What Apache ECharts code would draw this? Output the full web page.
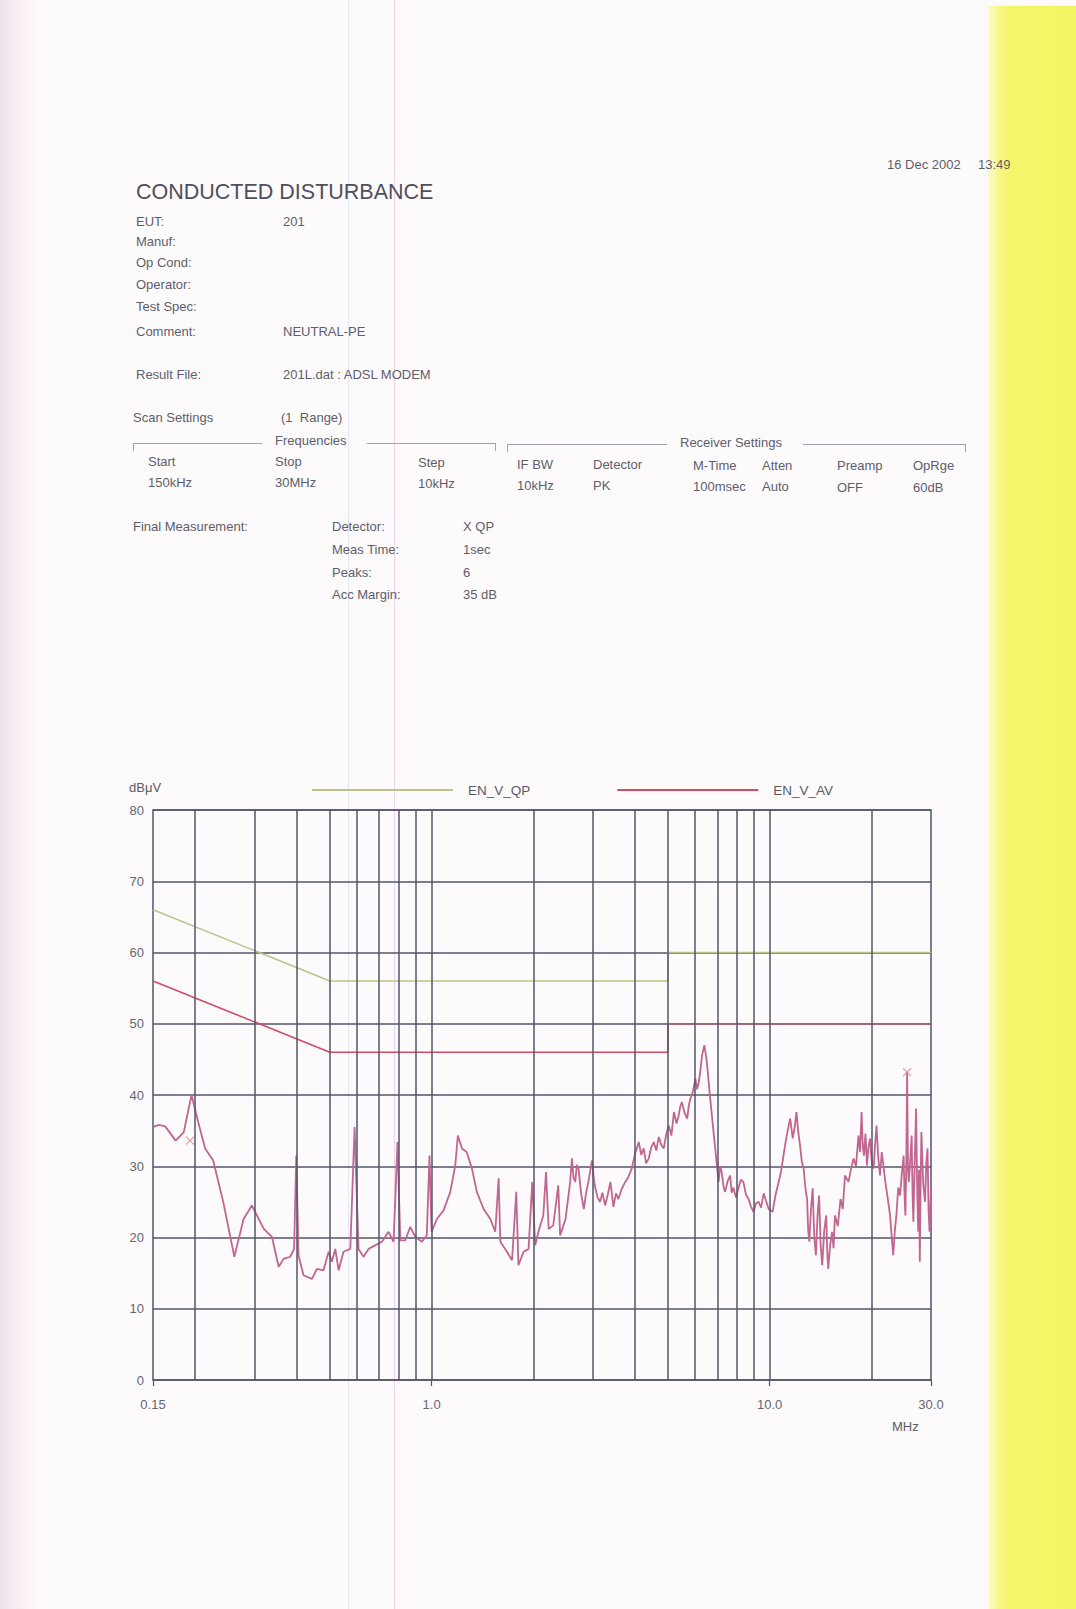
<!DOCTYPE html>
<html>
<head>
<meta charset="utf-8">
<title>Conducted Disturbance</title>
<script src="https://cdn.jsdelivr.net/npm/echarts/dist/echarts.min.js"></script>
<style>
  html, body { margin: 0; padding: 0; }
  body { width: 1076px; height: 1609px; overflow: hidden; position: relative;
         background: #fdfafc; font-family: 'Liberation Sans', Arial, sans-serif; }
  .edge-left { position: absolute; left: 0; top: 0; width: 40px; height: 1609px;
               background: linear-gradient(to right, #f1e1ea 0%, #f7eef3 45%, rgba(253,250,252,0) 100%); }
  .edge-right { position: absolute; left: 988px; top: 6px; width: 88px; height: 1603px;
                background: linear-gradient(to right, #fbfbd2 0px, #f8f78a 10px, #f6f56a 22px, #f5f462 100%); }
  .streak { position: absolute; top: 0; width: 1px; height: 1609px; }
  .t { position: absolute; font-size: 13px; line-height: 16px; color: #5e5e69; white-space: nowrap; }
  .title { font-size: 21.5px; line-height: 24px; color: #4f4f5c; }
  .hl { position: absolute; height: 0; border-top: 1px solid #a2a2ac; }
  .vl { position: absolute; width: 0; height: 8px; border-left: 1px solid #a2a2ac; }
  #chart { position: absolute; left: 0; top: 0; width: 1076px; height: 1609px; }
</style>
</head>
<body>
<div class="edge-left"></div>
<div class="edge-right"></div>
<div class="streak" style="left:348px;background:#e3e8f7;"></div>
<div class="streak" style="left:394px;background:#f3d2ec;"></div>

<!-- report header -->
<div class="t" style="left:887px;top:157px;">16 Dec 2002</div>
<div class="t" style="left:978px;top:157px;">13:49</div>
<div class="t title" style="left:136px;top:180px;">CONDUCTED DISTURBANCE</div>

<div class="t" style="left:136px;top:214px;">EUT:</div>
<div class="t" style="left:283px;top:214px;">201</div>
<div class="t" style="left:136px;top:234px;">Manuf:</div>
<div class="t" style="left:136px;top:255px;">Op Cond:</div>
<div class="t" style="left:136px;top:277px;">Operator:</div>
<div class="t" style="left:136px;top:299px;">Test Spec:</div>
<div class="t" style="left:136px;top:324px;">Comment:</div>
<div class="t" style="left:283px;top:324px;">NEUTRAL-PE</div>
<div class="t" style="left:136px;top:367px;">Result File:</div>
<div class="t" style="left:283px;top:367px;">201L.dat : ADSL MODEM</div>

<div class="t" style="left:133px;top:410px;">Scan Settings</div>
<div class="t" style="left:281px;top:410px;">(1&nbsp; Range)</div>

<!-- frequency block -->
<div class="hl" style="left:133px;top:443px;width:129px;"></div>
<div class="vl" style="left:133px;top:443px;"></div>
<div class="t" style="left:275px;top:433px;">Frequencies</div>
<div class="hl" style="left:367px;top:443px;width:128px;"></div>
<div class="vl" style="left:495px;top:443px;"></div>
<div class="t" style="left:148px;top:454px;">Start</div>
<div class="t" style="left:148px;top:475px;">150kHz</div>
<div class="t" style="left:275px;top:454px;">Stop</div>
<div class="t" style="left:275px;top:475px;">30MHz</div>
<div class="t" style="left:418px;top:455px;">Step</div>
<div class="t" style="left:418px;top:476px;">10kHz</div>

<!-- receiver block -->
<div class="hl" style="left:507px;top:444px;width:160px;"></div>
<div class="vl" style="left:507px;top:444px;"></div>
<div class="t" style="left:680px;top:435px;">Receiver Settings</div>
<div class="hl" style="left:803px;top:444px;width:162px;"></div>
<div class="vl" style="left:965px;top:444px;"></div>
<div class="t" style="left:517px;top:457px;">IF BW</div>
<div class="t" style="left:517px;top:478px;">10kHz</div>
<div class="t" style="left:593px;top:457px;">Detector</div>
<div class="t" style="left:593px;top:478px;">PK</div>
<div class="t" style="left:693px;top:458px;">M-Time</div>
<div class="t" style="left:693px;top:479px;">100msec</div>
<div class="t" style="left:762px;top:458px;">Atten</div>
<div class="t" style="left:762px;top:479px;">Auto</div>
<div class="t" style="left:837px;top:458px;">Preamp</div>
<div class="t" style="left:837px;top:480px;">OFF</div>
<div class="t" style="left:913px;top:458px;">OpRge</div>
<div class="t" style="left:913px;top:480px;">60dB</div>

<div class="t" style="left:133px;top:519px;">Final Measurement:</div>
<div class="t" style="left:332px;top:519px;">Detector:</div>
<div class="t" style="left:463px;top:519px;">X QP</div>
<div class="t" style="left:332px;top:542px;">Meas Time:</div>
<div class="t" style="left:463px;top:542px;">1sec</div>
<div class="t" style="left:332px;top:565px;">Peaks:</div>
<div class="t" style="left:463px;top:565px;">6</div>
<div class="t" style="left:332px;top:587px;">Acc Margin:</div>
<div class="t" style="left:463px;top:587px;">35 dB</div>

<div id="chart"></div>

<script>
// Peak-detector scan, 150 kHz .. 30 MHz (frequency in MHz, level in dBuV)
const scanFreqMHz = [
  0.150, 0.156, 0.163, 0.175, 0.185, 0.195, 0.204, 0.214, 0.226, 0.242,
  0.261, 0.278, 0.294, 0.319, 0.337, 0.353, 0.365, 0.382, 0.392, 0.398,
  0.404, 0.418, 0.443, 0.458, 0.479, 0.496, 0.507, 0.519, 0.531, 0.549,
  0.575, 0.592, 0.608, 0.629, 0.651, 0.681, 0.713, 0.746, 0.772, 0.793,
  0.808, 0.836, 0.865, 0.895, 0.936, 0.968, 0.986, 1.000, 1.037, 1.085,
  1.136, 1.175, 1.196, 1.230, 1.270, 1.316, 1.361, 1.425, 1.492, 1.543,
  1.579, 1.597, 1.671, 1.730, 1.780, 1.807, 1.871, 1.936, 1.985, 2.025,
  2.070, 2.140, 2.180, 2.220, 2.290, 2.370, 2.400, 2.490, 2.570, 2.600,
  2.630, 2.660, 2.690, 2.720, 2.770, 2.820, 2.870, 2.910, 2.980, 3.020,
  3.050, 3.100, 3.150, 3.200, 3.260, 3.320, 3.380, 3.450, 3.510, 3.570,
  3.650, 3.740, 3.820, 3.910, 4.000, 4.100, 4.170, 4.240, 4.310, 4.390,
  4.460, 4.540, 4.620, 4.700, 4.780, 4.860, 4.950, 5.030, 5.120, 5.210,
  5.300, 5.380, 5.440, 5.500, 5.600, 5.700, 5.770, 5.830, 5.930, 6.030,
  6.100, 6.170, 6.240, 6.310, 6.410, 6.520, 6.670, 6.900, 7.060, 7.140,
  7.210, 7.300, 7.380, 7.510, 7.640, 7.720, 7.810, 7.950, 8.080, 8.220,
  8.360, 8.510, 8.660, 8.810, 8.960, 9.110, 9.270, 9.430, 9.600, 9.760,
  9.930, 10.20, 10.40, 10.80, 11.10, 11.30, 11.50, 11.70, 11.85, 12.00,
  12.15, 12.30, 12.45, 12.60, 12.75, 12.90, 13.00, 13.10, 13.25, 13.40,
  13.55, 13.70, 13.85, 14.00, 14.15, 14.30, 14.50, 14.70, 14.80, 14.90,
  15.10, 15.30, 15.45, 15.60, 15.90, 16.20, 16.45, 16.70, 17.10, 17.40,
  17.70, 18.00, 18.30, 18.50, 18.70, 18.85, 19.00, 19.20, 19.40, 19.60,
  19.80, 20.05, 20.30, 20.50, 20.70, 20.95, 21.20, 21.45, 21.70, 21.95,
  22.20, 22.45, 22.70, 22.95, 23.20, 23.45, 23.70, 24.00, 24.30, 24.60,
  24.90, 25.05, 25.20, 25.35, 25.50, 25.65, 25.80, 26.05, 26.30, 26.45,
  26.60, 26.85, 27.10, 27.30, 27.50, 27.65, 27.80, 27.95, 28.10, 28.45,
  28.80, 29.05, 29.30, 29.50, 29.70, 30.00
];
const scanLevel = [
  35.5, 35.8, 35.6, 33.6, 34.8, 40.0, 36.2, 32.5, 30.8, 25.0,
  17.3, 22.6, 24.5, 21.2, 20.1, 15.9, 17.0, 17.3, 18.4, 31.5,
  17.5, 14.7, 14.2, 15.6, 15.4, 18.0, 16.6, 18.4, 15.4, 18.0,
  18.4, 35.5, 18.4, 17.3, 18.4, 18.9, 19.4, 20.8, 19.4, 33.4,
  19.6, 19.6, 21.5, 20.1, 19.4, 20.3, 31.5, 20.8, 22.6, 23.8,
  26.4, 30.1, 34.3, 32.5, 32.0, 29.7, 26.4, 24.0, 22.6, 20.8,
  28.3, 19.4, 18.0, 16.8, 26.4, 16.1, 18.0, 18.4, 27.8, 18.9,
  20.8, 23.1, 29.2, 21.2, 21.7, 27.3, 20.3, 22.6, 27.8, 31.1,
  28.4, 27.8, 30.2, 29.7, 26.1, 24.0, 26.5, 27.8, 30.8, 28.2,
  26.9, 25.6, 25.0, 26.3, 24.5, 26.0, 27.8, 24.3, 26.2, 25.4,
  26.8, 27.8, 28.5, 29.7, 31.8, 33.4, 31.6, 32.5, 30.4, 31.1,
  32.6, 33.4, 32.2, 34.1, 33.0, 32.5, 34.6, 35.7, 34.3, 37.6,
  36.0, 37.1, 38.4, 39.0, 37.5, 36.7, 38.6, 39.5, 40.5, 42.3,
  40.8, 41.8, 43.5, 45.6, 47.0, 44.6, 39.5, 32.5, 27.8, 30.0,
  29.2, 27.2, 26.4, 27.9, 28.7, 26.3, 27.0, 25.6, 26.9, 28.1,
  27.8, 26.0, 25.4, 24.3, 23.6, 24.8, 25.0, 24.2, 26.2, 25.1,
  24.0, 23.6, 25.9, 29.2, 32.9, 35.0, 36.7, 33.9, 35.4, 37.6,
  34.8, 32.9, 30.6, 29.7, 27.0, 25.4, 21.0, 19.4, 24.0, 26.9,
  20.0, 17.5, 23.0, 25.9, 19.0, 16.1, 21.0, 23.1, 18.0, 15.6,
  19.0, 20.8, 18.5, 23.1, 21.6, 25.4, 24.0, 28.7, 27.8, 29.6,
  31.1, 30.0, 34.3, 32.0, 37.6, 32.8, 31.5, 34.6, 30.1, 32.7,
  33.9, 30.5, 29.7, 33.0, 35.7, 31.2, 28.7, 32.0, 30.1, 28.0,
  26.4, 24.8, 23.1, 20.2, 17.5, 21.0, 23.1, 27.0, 25.9, 29.0,
  31.5, 26.0, 23.1, 30.0, 43.2, 29.5, 27.8, 31.0, 34.3, 26.5,
  22.2, 30.5, 38.1, 27.0, 20.8, 29.5, 16.6, 27.5, 34.8, 27.6,
  25.0, 30.4, 32.5, 24.0, 20.8, 27.0
];

// Final quasi-peak results
const finalFreqMHz = [0.193, 25.5];
const finalLevel = [33.6, 43.2];

// EN 55022 class B limit lines
const qpFreqMHz = [0.15, 0.5, 5, 5, 30];
const qpLevel = [66, 56, 56, 60, 60];
const avFreqMHz = [0.15, 0.5, 5, 5, 30];
const avLevel = [56, 46, 46, 50, 50];

// Log-grid verticals
const gridFreqMHz = [0.2, 0.3, 0.4, 0.5, 0.6, 0.7, 0.8, 0.9, 1, 2, 3, 4, 5, 6, 7, 8, 9, 10, 20];

// Axis tick labels
const xTickValues = [0.15, 1, 10, 30];
const xTickLabels = ['0.15', '1.0', '10.0', '30.0'];

const zip = (xs, ys) => xs.map((x, i) => [x, ys[i]]);

const GRID = '#4f566c';
const FONT = "'Liberation Sans', Arial, sans-serif";

const chart = echarts.init(document.getElementById('chart'), null, { renderer: 'svg', width: 1076, height: 1609 });

chart.setOption({
  animation: false,
  textStyle: { fontFamily: FONT },
  grid: { left: 153, top: 810, width: 778, height: 570, show: true,
          borderColor: GRID, borderWidth: 1.5, backgroundColor: 'transparent' },
  legend: {
    left: 312, top: 782, padding: 0, itemWidth: 141, itemHeight: 2, itemGap: 87,
    icon: 'rect',
    data: ['EN_V_QP', 'EN_V_AV'],
    textStyle: { fontSize: 13.5, color: '#5a5a66', padding: [0, 0, 0, 10], lineHeight: 16 }
  },
  xAxis: {
    type: 'log', logBase: 10, min: 0.15, max: 30,
    axisLine: { show: false },
    axisTick: { show: true, length: 6, lineStyle: { color: GRID, width: 1.2 } },
    splitLine: { show: false },
    axisLabel: {
      fontSize: 13, color: '#666670', margin: 18,
      formatter: v => {
        let best = 0;
        xTickValues.forEach((t, i) => {
          if (Math.abs(Math.log10(v / t)) < Math.abs(Math.log10(v / xTickValues[best]))) best = i;
        });
        return xTickLabels[best];
      }
    }
  },
  yAxis: {
    type: 'value', min: 0, max: 80, interval: 10,
    axisLine: { show: false }, axisTick: { show: false },
    splitLine: { lineStyle: { color: GRID, width: 1.5 } },
    axisLabel: { fontSize: 13, color: '#666670', margin: 9 }
  },
  graphic: [
    { type: 'text', left: 129, top: 781, style: { text: 'dBμV', fontSize: 13, fill: '#5a5a66', fontFamily: FONT } },
    { type: 'text', left: 892, top: 1420, style: { text: 'MHz', fontSize: 13, fill: '#5a5a66', fontFamily: FONT } }
  ],
  series: [
    {
      name: 'grid', type: 'line', data: [], silent: true, z: 1,
      markLine: {
        silent: true, symbol: ['none', 'none'], label: { show: false },
        lineStyle: { color: GRID, width: 1.5, type: 'solid' },
        emphasis: { disabled: true },
        data: gridFreqMHz.map(f => ({ xAxis: f }))
      }
    },
    {
      name: 'EN_V_QP', type: 'line', data: zip(qpFreqMHz, qpLevel), symbol: 'none', z: 3,
      lineStyle: { color: '#bfc38a', width: 1.6 }, itemStyle: { color: '#bfc38a' }
    },
    {
      name: 'EN_V_AV', type: 'line', data: zip(avFreqMHz, avLevel), symbol: 'none', z: 3,
      lineStyle: { color: '#cf4d63', width: 1.6 }, itemStyle: { color: '#cf4d63' }
    },
    {
      name: 'Scan', type: 'line', data: zip(scanFreqMHz, scanLevel), symbol: 'none', z: 4,
      lineStyle: { color: '#c0668f', width: 1.8 }
    },
    {
      name: 'Final', type: 'scatter', data: zip(finalFreqMHz, finalLevel), z: 5,
      symbol: 'path://M0,0L10,10M10,0L0,10', symbolSize: 8,
      itemStyle: { color: 'none', borderColor: '#e27d8f', borderWidth: 1.2 }
    }
  ]
});
</script>
</body>
</html>
